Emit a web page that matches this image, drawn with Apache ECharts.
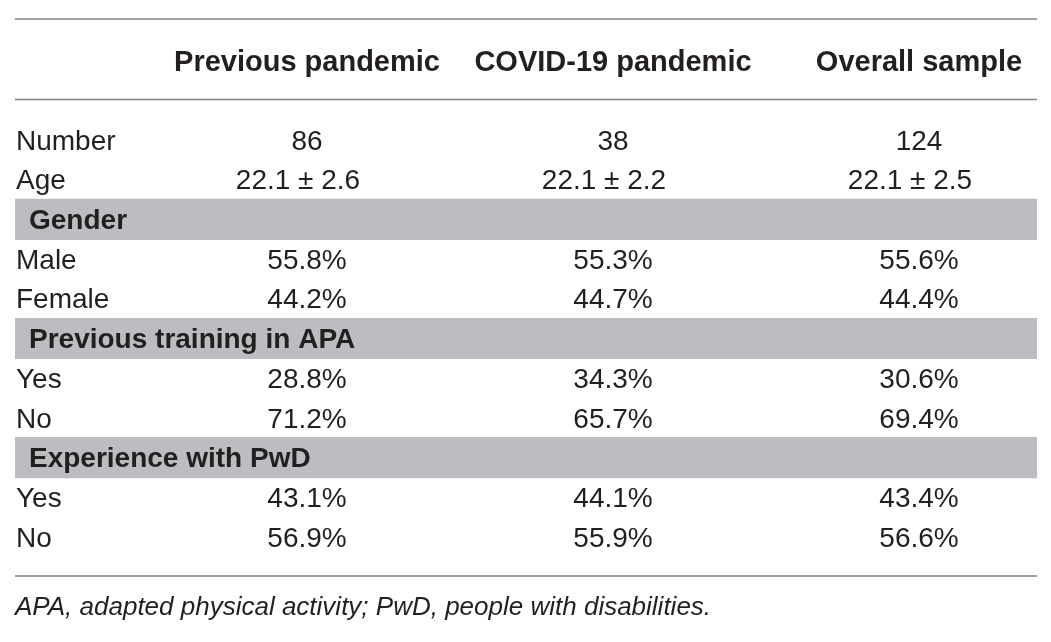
<!DOCTYPE html>
<html>
<head>
<meta charset="utf-8">
<script src="https://cdn.jsdelivr.net/npm/echarts@6/dist/echarts.min.js"></script>
<style>
  html, body { margin: 0; padding: 0; background: #fff; }
  #table { width: 1051px; height: 642px; }
</style>
</head>
<body>
<div id="table"></div>
<script>
// columns and rows of the table
var columns = ['Previous pandemic', 'COVID-19 pandemic', 'Overall sample'];
var rowLabels = ['Number', 'Age', 'Gender', 'Male', 'Female',
    'Previous training in APA', 'Yes', 'No', 'Experience with PwD', 'Yes', 'No'];
var sectionRows = ['Gender', 'Previous training in APA', 'Experience with PwD'];

// values, one entry per column
var number = [86, 38, 124];
var ageMean = [22.1, 22.1, 22.1];
var ageSd = [2.6, 2.2, 2.5];
var male = [55.8, 55.3, 55.6];
var female = [44.2, 44.7, 44.4];
var trainingYes = [28.8, 34.3, 30.6];
var trainingNo = [71.2, 65.7, 69.4];
var experienceYes = [43.1, 44.1, 43.4];
var experienceNo = [56.9, 55.9, 56.6];

var footnote = 'APA, adapted physical activity; PwD, people with disabilities.';

var textColor = '#231f20';
var font = '"Liberation Sans", Arial, Helvetica, sans-serif';

function pct(v) { return v.toFixed(1) + '%'; }

// cells: [col, row, text]
var cells = [];
function addRow(row, texts) {
    texts.forEach(function (t, c) { cells.push([c, row, t]); });
}
addRow(0, number.map(String));
addRow(1, ageMean.map(function (m, i) { return m.toFixed(1) + ' \u00b1 ' + ageSd[i].toFixed(1); }));
addRow(3, male.map(pct));
addRow(4, female.map(pct));
addRow(6, trainingYes.map(pct));
addRow(7, trainingNo.map(pct));
addRow(9, experienceYes.map(pct));
addRow(10, experienceNo.map(pct));

var bandData = sectionRows.map(function (s) { return [0, rowLabels.indexOf(s)]; });

// table frame
var TABLE_LEFT = 15, TABLE_RIGHT = 1037;
var GRID_LEFT = 307, GRID_TOP = 120, GRID_HEIGHT = 437;

var chart = echarts.init(document.getElementById('table'), null, { renderer: 'canvas' });

var option = {
    backgroundColor: '#fff',
    animation: false,
    grid: {
        left: GRID_LEFT,
        top: GRID_TOP,
        width: 612,
        height: GRID_HEIGHT,
        containLabel: false
    },
    xAxis: {
        type: 'category',
        position: 'top',
        boundaryGap: false,
        data: columns,
        z: 10,
        axisLine: { show: false },
        axisTick: { show: false },
        splitLine: { show: false },
        axisLabel: {
            interval: 0,
            margin: 43,
            color: textColor,
            fontFamily: font,
            fontSize: 29,
            fontWeight: 'bold'
        }
    },
    yAxis: {
        type: 'category',
        inverse: true,
        data: rowLabels,
        z: 10,
        axisLine: { show: false },
        axisTick: { show: false },
        splitLine: { show: false },
        axisLabel: {
            interval: 0,
            margin: GRID_LEFT - 16,
            align: 'left',
            padding: [4, 0, 0, 0],
            color: textColor,
            fontFamily: font,
            fontSize: 28,
            formatter: function (val, idx) {
                return sectionRows.indexOf(val) >= 0 ? '{sec|' + val + '}' : val;
            },
            rich: {
                sec: {
                    fontFamily: font,
                    fontSize: 28,
                    fontWeight: 'bold',
                    color: textColor,
                    padding: [0, 0, 0, 13]
                }
            }
        }
    },
    graphic: [
        { type: 'line', z: 20, shape: { x1: TABLE_LEFT, y1: 19, x2: TABLE_RIGHT, y2: 19 }, style: { stroke: '#858585', lineWidth: 1.5 } },
        { type: 'line', z: 20, shape: { x1: TABLE_LEFT, y1: 99.5, x2: TABLE_RIGHT, y2: 99.5 }, style: { stroke: '#858585', lineWidth: 1.5 } },
        { type: 'line', z: 20, shape: { x1: TABLE_LEFT, y1: 576, x2: TABLE_RIGHT, y2: 576 }, style: { stroke: '#858585', lineWidth: 1.5 } },
        {
            type: 'text', left: TABLE_LEFT, top: 595,
            style: { text: footnote, font: 'italic 26px ' + font, fill: textColor }
        }
    ],
    series: [
        {
            // grey section bands
            type: 'custom',
            z: 1,
            data: bandData,
            renderItem: function (params, api) {
                var p = api.coord([api.value(0), api.value(1)]);
                var h = api.size([0, 1])[1] + 1.5;
                return {
                    type: 'rect',
                    silent: true,
                    shape: { x: TABLE_LEFT, y: p[1] - h / 2, width: TABLE_RIGHT - TABLE_LEFT, height: h },
                    style: { fill: '#bcbdc0' }
                };
            }
        },
        {
            // cell values
            type: 'custom',
            z: 3,
            data: cells.map(function (c) { return [c[0], c[1]]; }),
            renderItem: function (params, api) {
                var cell = cells[params.dataIndex];
                var p = api.coord([api.value(0), api.value(1)]);
                var shift = cell[1] === 1 ? -9 : 0;
                return {
                    type: 'text',
                    x: p[0] + shift,
                    y: p[1] + 2,
                    style: {
                        text: cell[2],
                        font: '28px ' + font,
                        fill: textColor,
                        align: 'center',
                        verticalAlign: 'middle'
                    }
                };
            }
        }
    ]
};

chart.setOption(option);
window.addEventListener('resize', function () { chart.resize(); });
</script>
</body>
</html>
